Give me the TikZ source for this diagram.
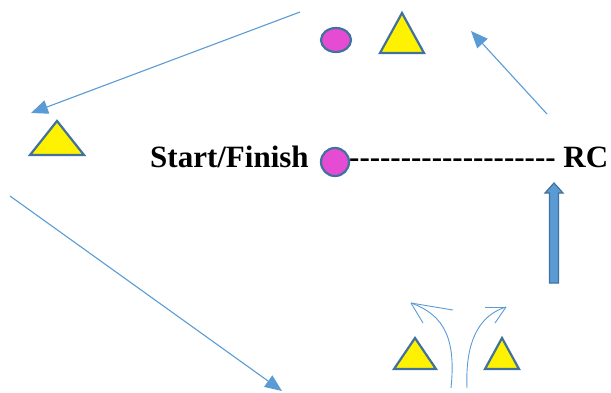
\documentclass[tikz,border=0pt]{standalone}
\usepackage{fontspec}
\setmainfont{Liberation Serif}[Ligatures=TeXOff]
\usetikzlibrary{arrows.meta,shapes.geometric}
\definecolor{lblue}{HTML}{5B9BD5}
\definecolor{dblue}{HTML}{41719C}
\definecolor{mag}{HTML}{E64BD3}
\begin{document}
\begin{tikzpicture}[x=1pt,y=-1pt,
  tri/.style={draw=dblue,line width=2.2pt,fill=yellow,line join=miter},
  conn/.style={draw=lblue,line width=1.1pt,-{Triangle[length=17pt,width=14pt]}},
  thin/.style={draw=lblue,line width=0.9pt},
  lbl/.style={font=\fontsize{31}{31}\selectfont\bfseries,inner sep=0pt,anchor=base west}]
\useasboundingbox (0,0) rectangle (611,392);
% shapes
\node[draw=dblue,line width=2.2pt,fill=mag,ellipse,minimum width=30pt,minimum height=24pt,inner sep=0pt] (topell) at (336,40) {};
\draw[tri] (380,53) -- (402,13) -- (424,53) -- cycle;
\draw[tri] (30,155) -- (57,121) -- (84,155) -- cycle;
\draw[tri] (394,369) -- (415,338) -- (436,369) -- cycle;
\draw[tri] (485,369) -- (502,338) -- (519,369) -- cycle;
% texts
\node[lbl] (start) at (150,167) {Start/Finish};
\node[draw=dblue,line width=2.2pt,fill=mag,circle,minimum size=28pt,inner sep=0pt] (sf) at (335,162) {};
\node[lbl] (rc) at (349,167) {-------------------- RC};
% arrows
\coordinate (a1s) at (300,12); \coordinate (a1e) at (31,113);
\coordinate (a2s) at (10,196); \coordinate (a2e) at (282,391);
\coordinate (a3s) at (547,114); \coordinate (a3e) at (471,31);
\draw[conn] (a1s) -- (a1e);
\draw[conn] (a2s) -- (a2e);
\draw[conn] (a3s) -- (a3e);
% block arrow
\coordinate (bb) at (554,283);
\draw[draw=dblue,line width=1.2pt,fill=lblue] (549.5,283) -- (549.5,193) -- (545,193) -- (554,183) -- (563,193) -- (558.5,193) -- (558.5,283) -- cycle;
% curved arrows
\coordinate (c1s) at (451,388); \coordinate (c1e) at (411,303);
\draw[thin] (c1s) .. controls (456,340) and (445,315) .. (c1e);
\draw[thin] (c1e) -- (453,310);
\draw[thin] (c1e) -- (423,323);
\coordinate (c2s) at (467,388); \coordinate (c2e) at (506,307);
\draw[thin] (c2s) .. controls (465,340) and (480,315) .. (c2e);
\draw[thin] (c2e) -- (485,307);
\draw[thin] (c2e) -- (495,323);
\end{tikzpicture}
\end{document}
